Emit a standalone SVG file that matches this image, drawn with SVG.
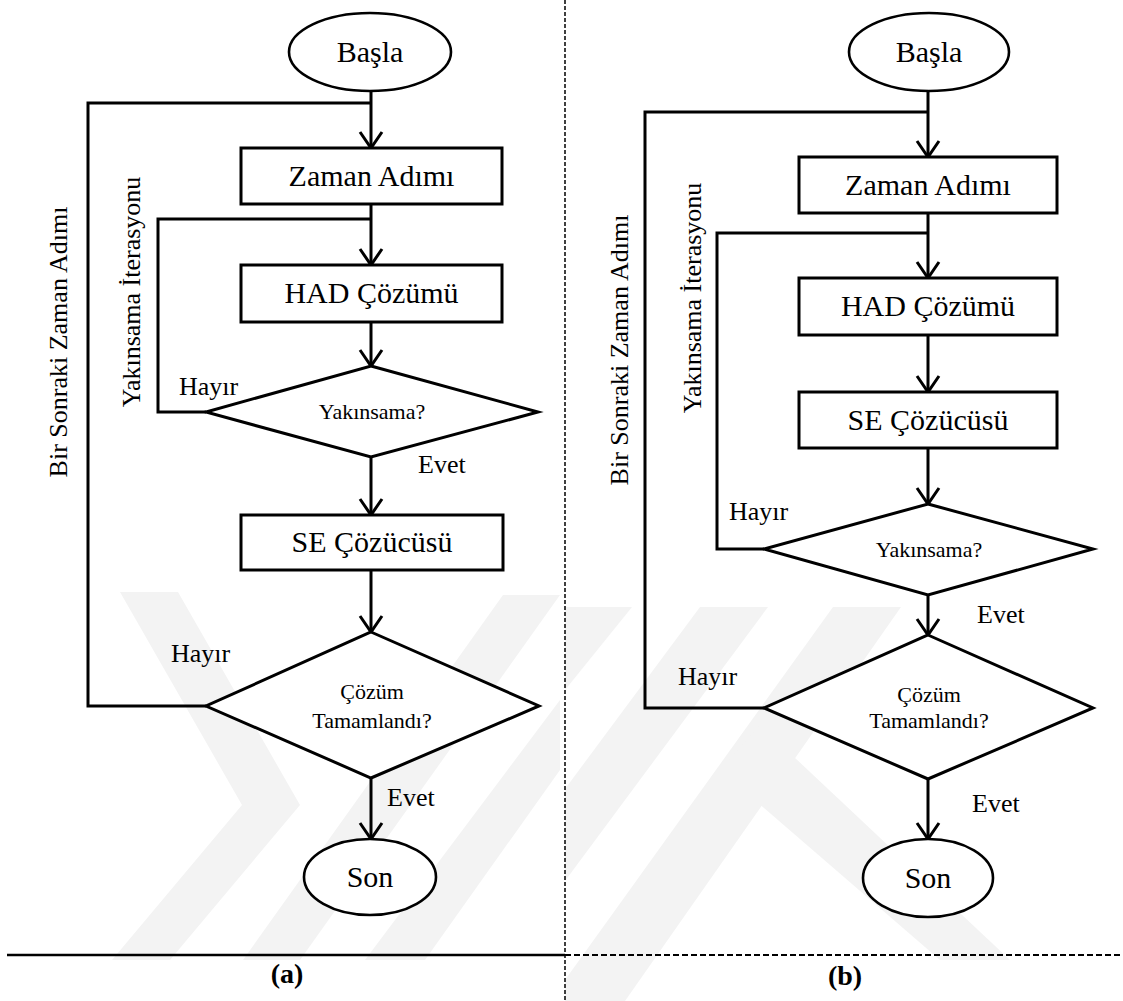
<svg xmlns="http://www.w3.org/2000/svg" width="1123" height="1001" viewBox="0 0 1123 1001">
<style>
.bg{fill:#ffffff}
.wm{fill:#f3f3f3;stroke:none}
.shape{fill:#ffffff;stroke:#000;stroke-width:3}
.ell{fill:#ffffff;stroke:#000;stroke-width:2.6}
.conn{fill:none;stroke:#000;stroke-width:3;stroke-linejoin:miter}
.t{font-family:'Liberation Serif','Tinos','Times New Roman','Times','DejaVu Serif','Noto Serif',serif;fill:#000;text-anchor:middle}
.box{font-size:30px}
.dia{font-size:22px}
.lab{font-size:26px;text-anchor:start}
.rot{font-size:26px}
.cap{font-size:28px;font-weight:bold}
</style>
<defs>
<marker id="arr" viewBox="0 0 20 24" refX="17" refY="12" markerWidth="20" markerHeight="24" markerUnits="userSpaceOnUse" orient="auto" overflow="visible">
<path d="M1,1 L17,12 L1,23" fill="none" stroke="#000" stroke-width="3"/>
</marker>
</defs>
<rect class="bg" x="0" y="0" width="1123" height="1001"/>
<g id="watermark">
<polygon class="wm" points="120,592 178,592 300,805 170,960 112,960 242,805"/>
<polygon class="wm" points="503,595 560,595 300,960 243,960"/>
<polygon class="wm" points="560,700 560,770 425,960 365,960"/>
<polygon class="wm" points="565,607 632,607 565,690"/>
<polygon class="wm" points="700,607 768,607 565,881 565,789"/>
<polygon class="wm" points="833,607 901,607 625,1001 565,1001 565,980"/>
<polygon class="wm" points="720,770 760,725 1010,960 940,960"/>
</g>
<g id="dividers">
<line x1="565" y1="0" x2="565" y2="1001" stroke="#000" stroke-width="1.5" stroke-dasharray="4 2"/>
<line x1="7" y1="955" x2="565" y2="955" stroke="#000" stroke-width="2.5"/>
<line x1="565" y1="955" x2="1123" y2="955" stroke="#000" stroke-width="2" stroke-dasharray="6 3"/>
</g>
<g id="connectors">
<path class="conn" d="M206,706 H88 V103 H371"/>
<path class="conn" d="M206,412 H158 V219 H371"/>
<path class="conn" d="M371,92 V148" marker-end="url(#arr)"/>
<path class="conn" d="M371,204 V265" marker-end="url(#arr)"/>
<path class="conn" d="M371,322 V366" marker-end="url(#arr)"/>
<path class="conn" d="M371,457 V515" marker-end="url(#arr)"/>
<path class="conn" d="M371,570 V632" marker-end="url(#arr)"/>
<path class="conn" d="M371,778 V839" marker-end="url(#arr)"/>
<path class="conn" d="M764,708 H645 V112 H928"/>
<path class="conn" d="M764,549 H717 V233 H928"/>
<path class="conn" d="M928,91 V157" marker-end="url(#arr)"/>
<path class="conn" d="M928,213 V278" marker-end="url(#arr)"/>
<path class="conn" d="M928,335 V392" marker-end="url(#arr)"/>
<path class="conn" d="M928,448 V504" marker-end="url(#arr)"/>
<path class="conn" d="M928,595 V635" marker-end="url(#arr)"/>
<path class="conn" d="M928,779 V839" marker-end="url(#arr)"/>
</g>
<g id="a-basla"><ellipse class="ell" cx="370" cy="52" rx="81" ry="39"/><text class="t box" x="370" y="62">Başla</text></g>
<g id="a-zaman"><rect class="shape" x="241" y="148" width="261" height="56"/><text class="t box" x="371.5" y="186">Zaman Adımı</text></g>
<g id="a-had"><rect class="shape" x="241" y="265" width="261" height="57"/><text class="t box" x="371.5" y="303">HAD Çözümü</text></g>
<g id="a-yakinsama"><polygon class="shape" points="371,366 538,412 371,457 206,412"/><text class="t dia" x="372" y="419">Yakınsama?</text></g>
<g id="a-se"><rect class="shape" x="241" y="515" width="262" height="55"/><text class="t box" x="372" y="552">SE Çözücüsü</text></g>
<g id="a-cozum"><polygon class="shape" points="371,632 539,706 371,778 206,706"/><text class="t dia" x="372" y="699">Çözüm</text><text class="t dia" x="372" y="728">Tamamlandı?</text></g>
<g id="a-son"><ellipse class="ell" cx="370" cy="877" rx="66" ry="38"/><text class="t box" x="370" y="887">Son</text></g>
<g id="a-labels">
<text class="t lab" x="179" y="395">Hayır</text>
<text class="t lab" x="418" y="473">Evet</text>
<text class="t lab" x="171" y="662">Hayır</text>
<text class="t lab" x="387" y="806">Evet</text>
<text class="t rot" transform="translate(67,342) rotate(-90)">Bir Sonraki Zaman Adımı</text>
<text class="t rot" transform="translate(140,292) rotate(-90)">Yakınsama İterasyonu</text>
<text class="t cap" x="287" y="983">(a)</text>
</g>
<g id="b-basla"><ellipse class="ell" cx="929" cy="52" rx="80" ry="39"/><text class="t box" x="929" y="62">Başla</text></g>
<g id="b-zaman"><rect class="shape" x="799" y="157" width="258" height="56"/><text class="t box" x="928" y="195">Zaman Adımı</text></g>
<g id="b-had"><rect class="shape" x="799" y="278" width="258" height="57"/><text class="t box" x="928" y="316">HAD Çözümü</text></g>
<g id="b-se"><rect class="shape" x="799" y="392" width="258" height="56"/><text class="t box" x="928" y="430">SE Çözücüsü</text></g>
<g id="b-yakinsama"><polygon class="shape" points="928,504 1093,549 928,595 764,549"/><text class="t dia" x="929" y="557">Yakınsama?</text></g>
<g id="b-cozum"><polygon class="shape" points="928,635 1093,708 928,779 764,708"/><text class="t dia" x="929" y="702">Çözüm</text><text class="t dia" x="929" y="728">Tamamlandı?</text></g>
<g id="b-son"><ellipse class="ell" cx="928" cy="878" rx="65" ry="39"/><text class="t box" x="928" y="888">Son</text></g>
<g id="b-labels">
<text class="t lab" x="729" y="520">Hayır</text>
<text class="t lab" x="977" y="623">Evet</text>
<text class="t lab" x="678" y="685">Hayır</text>
<text class="t lab" x="972" y="812">Evet</text>
<text class="t rot" transform="translate(628,350) rotate(-90)">Bir Sonraki Zaman Adımı</text>
<text class="t rot" transform="translate(701,298) rotate(-90)">Yakınsama İterasyonu</text>
<text class="t cap" x="845" y="985">(b)</text>
</g>
</svg>
